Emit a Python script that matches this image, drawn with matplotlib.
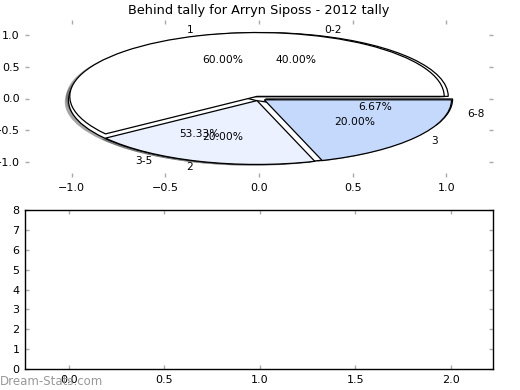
import matplotlib
matplotlib.use("Agg")
import matplotlib.pyplot as plt
from matplotlib.ticker import MultipleLocator
from matplotlib.colors import to_rgb

title = "Behind tally for Arryn Siposs - 2012 tally"

# outer grouping pie
labels_a = ["0-2", "3-5", "6-8"]
values_a = [6, 8, 1]
colors_a = ["white", "white", "white"]

# inner tally pie
labels_b = ["1", "2", "3"]
values_b = [9, 3, 3]
colors_b = ["white", "#ebf1fe", "#c5d9fc"]

explode = 0.035

fig = plt.figure(figsize=(5.2, 3.9), dpi=100)
ax1 = fig.add_axes([25/520, 1-177/390, 468/520, 157/390])
ax2 = fig.add_axes([25/520, 1-369/390, 468/520, 159/390])

tick_gray = "#aaaaaa"
fs = 8

def add_pie(ax, vals, labs, cols):
    # shadow pie (classic style: 0.3 * face colour, half transparent, offset in data units)
    shade = [tuple(0.3*c for c in to_rgb(col)) for col in cols]
    ax.pie(vals, colors=shade, explode=[explode]*len(vals), startangle=0,
           frame=True, center=(-0.02, -0.02),
           wedgeprops=dict(alpha=0.5, linewidth=0, zorder=0.5))
    ax.pie(vals, labels=labs, colors=cols, explode=[explode]*len(vals),
           autopct='%1.2f%%', startangle=0, frame=True,
           wedgeprops=dict(edgecolor='black', linewidth=0.9, zorder=1),
           textprops=dict(fontsize=7.7))

add_pie(ax1, values_a, labels_a, colors_a)
add_pie(ax1, values_b, labels_b, colors_b)
ax1.set_aspect('auto')
ax1.set_frame_on(False)
ax1.set_xlim(-1.25, 1.25)
ax1.set_ylim(-1.23, 1.23)
ax1.xaxis.set_major_locator(MultipleLocator(0.5))
ax1.yaxis.set_major_locator(MultipleLocator(0.5))
ax1.set_title(title, fontsize=9.3, pad=4)

ax2.set_xlim(-0.23, 2.22)
ax2.set_ylim(0, 8)
ax2.xaxis.set_major_locator(MultipleLocator(0.5))
ax2.yaxis.set_major_locator(MultipleLocator(1))
for s in ax2.spines.values():
    s.set_color('black')
    s.set_linewidth(1)

for ax in (ax1, ax2):
    ax.tick_params(direction='in', length=3, width=1, color=tick_gray,
                   labelsize=fs, top=True, right=True, pad=4)

fig.text(0.0, 2/390, "Dream-Stats.com", color="#999999", fontsize=8.5,
         ha='left', va='bottom')

fig.savefig("out.png", dpi=100)
